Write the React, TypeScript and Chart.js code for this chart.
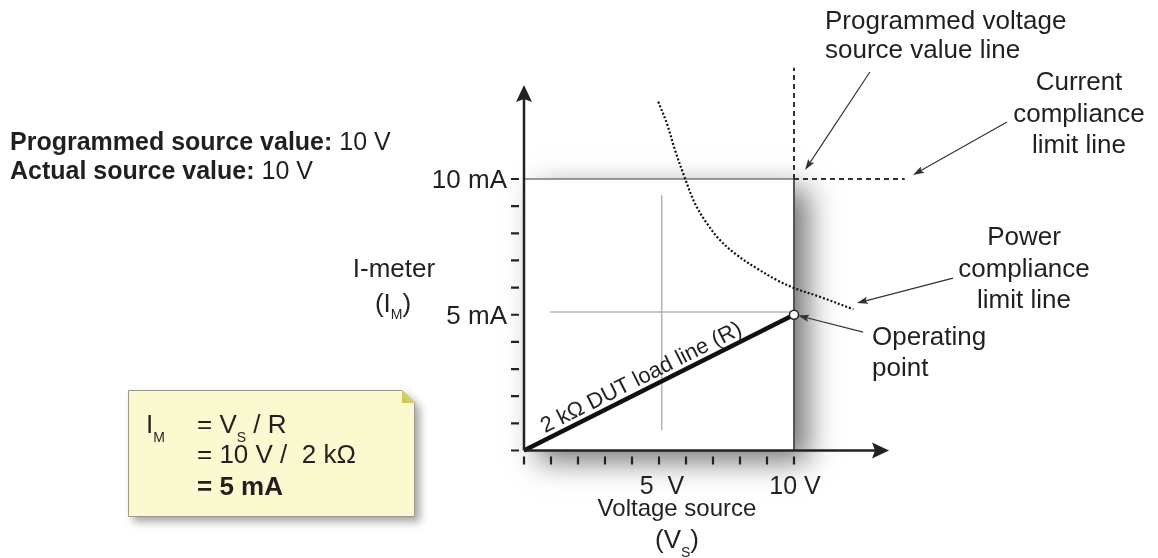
import React, { useEffect, useRef } from 'react';
import { Chart, registerables } from 'chart.js';

Chart.register(...registerables);

// ---- data (volts on x, milliamps on y) ----
const voltageTicks = [0, 1, 2, 3, 4, 5, 6, 7, 8, 9, 10];
const currentTicks = [0, 1, 2, 3, 4, 5, 6, 7, 8, 9, 10];
const xLabelValues = [5, 10];
const xLabelTexts = ['5  V', '10 V'];
const yLabelValues = [5, 10];
const yLabelTexts = ['5 mA', '10 mA'];

const loadLineV = [0, 10];
const loadLineI = [0, 5];
const operatingV = [10];
const operatingI = [5];
const powerCurveV = [4.97, 5.29, 5.59, 5.96, 6.33, 6.77, 7.26, 7.88, 8.62, 9.36, 10.04, 10.96, 12.2];
const powerCurveI = [12.85, 12.05, 11.07, 10.03, 9.1, 8.37, 7.75, 7.2, 6.71, 6.28, 5.97, 5.66, 5.2];
const currentLimitV = [10, 14.1];
const currentLimitI = [10, 10];
const voltageLineV = [10, 10];
const voltageLineI = [10, 14.1];
const boxTopV = [0, 10];
const boxTopI = [10, 10];
const boxRightV = [10, 10];
const boxRightI = [0, 10];
const crossHV = [0.96, 10];
const crossHI = [5.1, 5.1];
const crossVV = [5.1, 5.1];
const crossVI = [0.75, 9.4];
const axisEndV = 13.52;
const axisEndI = 13.46;
const scaleMaxV = 14.5;
const scaleMaxI = 14.5;

// annotation pointers: [fromV, fromI, toV, toI]
const pointers = [
  [12.81, 13.94, 10.41, 10.33],
  [17.89, 12.1, 14.41, 10.15],
  [15.89, 6.35, 12.33, 5.43],
  [12.56, 4.36, 10.15, 4.97],
];

const FONT = '"Liberation Sans", Arial, Helvetica, sans-serif';
const TXT = '#231f20';
const font = (s: number, b = false) => `${b ? 'bold ' : ''}${s}px ${FONT}`;

type Part = { t: string; s: number; b?: boolean; dy?: number };
function rich(ctx: CanvasRenderingContext2D, x: number, y: number, parts: Part[], align: 'left' | 'center' | 'right' = 'left') {
  ctx.textAlign = 'left';
  ctx.textBaseline = 'alphabetic';
  let w = 0;
  for (const p of parts) {
    ctx.font = font(p.s, p.b);
    w += ctx.measureText(p.t).width;
  }
  let cx = align === 'center' ? x - w / 2 : align === 'right' ? x - w : x;
  for (const p of parts) {
    ctx.font = font(p.s, p.b);
    ctx.fillText(p.t, cx, y + (p.dy || 0));
    cx += ctx.measureText(p.t).width;
  }
}

function text(ctx: CanvasRenderingContext2D, s: string, x: number, y: number, size: number, align: CanvasTextAlign = 'left', bold = false) {
  ctx.font = font(size, bold);
  ctx.textAlign = align;
  ctx.textBaseline = 'alphabetic';
  ctx.fillText(s, x, y);
}

function stealthHead(ctx: CanvasRenderingContext2D, tx: number, ty: number, ang: number, len: number, hw: number, notch: number) {
  ctx.save();
  ctx.translate(tx, ty);
  ctx.rotate(ang);
  ctx.beginPath();
  ctx.moveTo(0, 0);
  ctx.lineTo(-len, -hw);
  ctx.lineTo(-len + notch, 0);
  ctx.lineTo(-len, hw);
  ctx.closePath();
  ctx.fill();
  ctx.restore();
}

const diagramPlugin = {
  id: 'diagram',
  beforeDatasetsDraw(chart: any) {
    const { ctx, scales } = chart;
    const X = (v: number) => scales.x.getPixelForValue(v);
    const Y = (i: number) => scales.y.getPixelForValue(i);
    // white plot box with drop shadow
    ctx.save();
    ctx.shadowColor = 'rgba(0,0,0,0.55)';
    ctx.shadowBlur = 28;
    ctx.shadowOffsetX = 14;
    ctx.shadowOffsetY = 10;
    ctx.fillStyle = '#fff';
    ctx.fillRect(X(0), Y(10), X(10) - X(0), Y(0) - Y(10));
    ctx.restore();

    // formula note box
    const bx = 128, by = 390, bw = 287, bh = 127, fold = 13;
    ctx.save();
    ctx.shadowColor = 'rgba(0,0,0,0.35)';
    ctx.shadowBlur = 8;
    ctx.shadowOffsetX = 5;
    ctx.shadowOffsetY = 5;
    ctx.beginPath();
    ctx.moveTo(bx, by);
    ctx.lineTo(bx + bw - fold, by);
    ctx.lineTo(bx + bw, by + fold);
    ctx.lineTo(bx + bw, by + bh);
    ctx.lineTo(bx, by + bh);
    ctx.closePath();
    ctx.fillStyle = '#fbf9cf';
    ctx.fill();
    ctx.restore();
    ctx.save();
    ctx.strokeStyle = '#9a9a90';
    ctx.lineWidth = 1;
    ctx.beginPath();
    ctx.moveTo(bx + 0.5, by + 0.5);
    ctx.lineTo(bx + bw - fold, by + 0.5);
    ctx.lineTo(bx + bw - 0.5, by + fold);
    ctx.lineTo(bx + bw - 0.5, by + bh - 0.5);
    ctx.lineTo(bx + 0.5, by + bh - 0.5);
    ctx.closePath();
    ctx.stroke();
    const g = ctx.createLinearGradient(bx + bw - fold, by + fold, bx + bw, by);
    g.addColorStop(0, '#c9bf3c');
    g.addColorStop(1, '#ece69a');
    ctx.fillStyle = g;
    ctx.beginPath();
    ctx.moveTo(bx + bw - fold, by);
    ctx.lineTo(bx + bw, by + fold);
    ctx.lineTo(bx + bw - fold, by + fold);
    ctx.closePath();
    ctx.fill();
    ctx.fillStyle = TXT;
    rich(ctx, 146, 433, [{ t: 'I', s: 26 }, { t: 'M', s: 14, dy: 9 }]);
    rich(ctx, 197, 433, [{ t: '= V', s: 26 }, { t: 'S', s: 14, dy: 9 }, { t: ' / R', s: 26 }]);
    text(ctx, '= 10 V /  2 kΩ', 197, 463, 26);
    text(ctx, '= 5 mA', 197, 495, 26, 'left', true);
    ctx.restore();
  },
  afterDatasetsDraw(chart: any) {
    const { ctx, scales } = chart;
    const X = (v: number) => scales.x.getPixelForValue(v);
    const Y = (i: number) => scales.y.getPixelForValue(i);
    ctx.save();
    ctx.strokeStyle = '#222';
    ctx.fillStyle = '#222';
    // axes
    ctx.lineWidth = 2.5;
    ctx.beginPath();
    ctx.moveTo(X(0), Y(0));
    ctx.lineTo(X(0), Y(axisEndI) + 10);
    ctx.moveTo(X(0), Y(0));
    ctx.lineTo(X(axisEndV) - 10, Y(0));
    ctx.stroke();
    stealthHead(ctx, X(0), Y(axisEndI), -Math.PI / 2, 17, 8, 3);
    stealthHead(ctx, X(axisEndV), Y(0), 0, 17, 8, 3);
    // detached tick marks
    ctx.lineWidth = 2.2;
    ctx.beginPath();
    for (const i of currentTicks) {
      ctx.moveTo(X(0) - 13, Y(i));
      ctx.lineTo(X(0) - 5, Y(i));
    }
    for (const v of voltageTicks) {
      ctx.moveTo(X(v), Y(0) + 6);
      ctx.lineTo(X(v), Y(0) + 14);
    }
    ctx.stroke();
    // pointers
    ctx.strokeStyle = '#333';
    ctx.fillStyle = '#333';
    ctx.lineWidth = 1.2;
    for (const [fv, fi, tv, ti] of pointers) {
      const x1 = X(fv), y1 = Y(fi), x2 = X(tv), y2 = Y(ti);
      const ang = Math.atan2(y2 - y1, x2 - x1);
      ctx.beginPath();
      ctx.moveTo(x1, y1);
      ctx.lineTo(x2 - 8 * Math.cos(ang), y2 - 8 * Math.sin(ang));
      ctx.stroke();
      stealthHead(ctx, x2, y2, ang, 11, 3.6, 2);
    }
    // tick labels
    ctx.fillStyle = TXT;
    yLabelValues.forEach((v, k) => text(ctx, yLabelTexts[k], X(0) - 17, Y(v) + 9, 26, 'right'));
    xLabelValues.forEach((v, k) => text(ctx, xLabelTexts[k], X(v) + (v === 5 ? 3 : 1), Y(0) + 43, 25, 'center'));
    // load line label
    const ang = Math.atan2(Y(loadLineI[1]) - Y(loadLineI[0]), X(loadLineV[1]) - X(loadLineV[0]));
    ctx.save();
    ctx.translate(X(4.55), Y(2.275));
    ctx.rotate(ang);
    text(ctx, '2 kΩ DUT load line (R)', 0, -6, 22, 'center');
    ctx.restore();
    // axis titles
    text(ctx, 'I-meter', 394, 277, 26, 'center');
    rich(ctx, 393, 312, [{ t: '(I', s: 26 }, { t: 'M', s: 14, dy: 7 }, { t: ')', s: 26 }], 'center');
    text(ctx, 'Voltage source', 677, 516, 24, 'center');
    rich(ctx, 677, 548, [{ t: '(V', s: 26 }, { t: 'S', s: 14, dy: 9 }, { t: ')', s: 26 }], 'center');
    // annotations
    text(ctx, 'Programmed voltage', 825, 29, 26);
    text(ctx, 'source value line', 825, 58, 26);
    text(ctx, 'Current', 1079, 90, 26, 'center');
    text(ctx, 'compliance', 1079, 122, 26, 'center');
    text(ctx, 'limit line', 1079, 153, 26, 'center');
    text(ctx, 'Power', 1024, 245, 26, 'center');
    text(ctx, 'compliance', 1024, 277, 26, 'center');
    text(ctx, 'limit line', 1024, 308, 26, 'center');
    text(ctx, 'Operating', 872, 345, 26);
    text(ctx, 'point', 872, 376, 26);
    rich(ctx, 10, 150, [{ t: 'Programmed source value:', s: 25, b: true }, { t: ' 10 V', s: 25 }]);
    rich(ctx, 10, 179, [{ t: 'Actual source value:', s: 25, b: true }, { t: ' 10 V', s: 25 }]);
    ctx.restore();
  },
};

const pts = (xs: number[], ys: number[]) => xs.map((v, k) => ({ x: v, y: ys[k] }));
const line = (xs: number[], ys: number[], color: string, width: number, extra: any = {}) => ({
  data: pts(xs, ys),
  showLine: true,
  borderColor: color,
  borderWidth: width,
  pointRadius: 0,
  clip: false,
  ...extra,
});

// pixel frame: 0 V at x=524, 27 px per volt; 0 mA at y=450.5, 27.15 px per mA
const padLeft = 524;
const padRight = 1158 - (524 + scaleMaxV * 27);
const padBottom = 558 - 450.5;
const padTop = 450.5 - scaleMaxI * 27.15;

export default function App() {
  const ref = useRef<HTMLCanvasElement>(null);
  useEffect(() => {
    const chart = new Chart(ref.current as HTMLCanvasElement, {
      type: 'scatter',
      data: {
        datasets: [
          {
            data: pts(operatingV, operatingI),
            pointRadius: 4.5,
            pointBackgroundColor: '#fff',
            pointBorderColor: '#222',
            pointBorderWidth: 1.5,
            showLine: false,
            clip: false,
          } as any,
          line(loadLineV, loadLineI, '#111', 4.5),
          line(powerCurveV, powerCurveI, '#111', 2.2, { borderDash: [2, 2], tension: 0.35 }),
          line(currentLimitV, currentLimitI, '#333', 2, { borderDash: [5, 4] }),
          line(voltageLineV, voltageLineI, '#333', 2, { borderDash: [5, 4] }),
          line(boxRightV, boxRightI, '#555', 2),
          line(boxTopV, boxTopI, '#777', 1.5),
          line(crossHV, crossHI, '#b4b4b4', 1.5),
          line(crossVV, crossVI, '#b4b4b4', 1.5),
        ],
      },
      options: {
        responsive: false,
        animation: false,
        devicePixelRatio: 1,
        events: [],
        layout: { padding: { left: padLeft, top: padTop, right: padRight, bottom: padBottom } },
        plugins: { legend: { display: false }, tooltip: { enabled: false } },
        scales: {
          x: { type: 'linear', min: 0, max: scaleMaxV, display: false },
          y: { type: 'linear', min: 0, max: scaleMaxI, display: false },
        },
      },
      plugins: [diagramPlugin],
    });
    return () => chart.destroy();
  }, []);
  return (
    <div style={{ position: 'absolute', left: 0, top: 0, width: 1158, height: 558, background: '#fff' }}>
      <canvas ref={ref} width={1158} height={558} style={{ display: 'block' }} />
    </div>
  );
}
